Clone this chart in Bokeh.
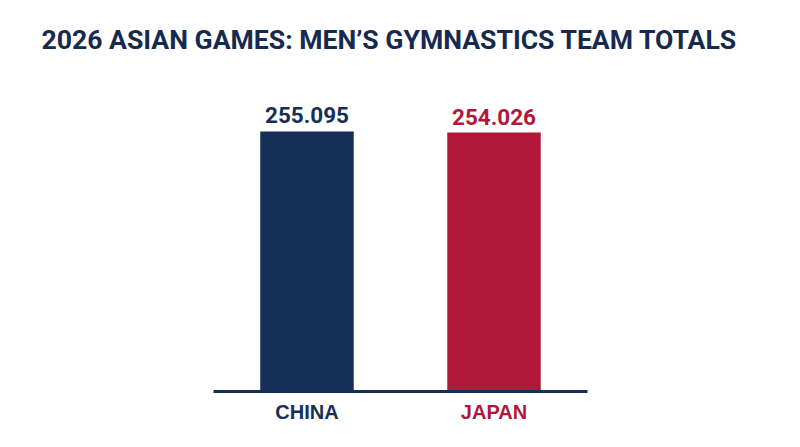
from bokeh.plotting import figure
from bokeh.models import FactorRange, Range1d, Label, ColumnDataSource
from bokeh.core.properties import value
from bokeh.embed import file_html
from bokeh.resources import INLINE

title_text = "2026 ASIAN GAMES: MEN\u2019S GYMNASTICS TEAM TOTALS"
categories = ["CHINA", "JAPAN"]
totals = [255.095, 254.026]
labels = ["255.095", "254.026"]
colors = ["#152F59", "#B0173A"]

W, H = 800, 447
px_per_unit = 1.0193
base_y = 391

p = figure(width=W, height=H, output_backend="svg", toolbar_location=None,
           x_range=FactorRange(*categories, range_padding=1.139, range_padding_units="absolute"),
           y_range=Range1d(-(H - base_y) / px_per_unit, base_y / px_per_unit),
           min_border=0, min_border_left=0, min_border_right=0,
           min_border_top=0, min_border_bottom=0)
p.axis.visible = False
p.grid.visible = False
p.outline_line_color = None
p.background_fill_color = "white"
p.border_fill_color = "white"

src = ColumnDataSource(dict(cat=categories, val=totals, lab=labels, col=colors,
                            zero=[0] * len(categories)))

p.vbar(x="cat", top="val", bottom=0, width=0.5, fill_color="col", line_color=None, source=src)

p.segment(x0=[0], y0=[0], x1=[len(categories)], y1=[0], line_color="#152F59", line_width=3)

p.text(x="cat", y="val", text="lab", text_color="col", source=src,
       text_font=value("Roboto"), text_font_style="bold", text_font_size="22.5px",
       text_align="center", text_baseline="alphabetic", y_offset=-16)

p.text(x="cat", y="zero", text="cat", text_color="col", source=src,
       text_font=value("Liberation Sans"), text_font_style="bold", text_font_size="20px",
       text_align="center", text_baseline="alphabetic", y_offset=20)

p.add_layout(Label(x=1.0, y=(base_y - 39) / px_per_unit, text=title_text,
                   text_font="Roboto", text_font_style="bold", text_font_size="26.6px",
                   text_color="#16294F", text_align="center", text_baseline="alphabetic",
                   x_offset=-11))

open("out.html", "w").write(file_html(p, INLINE))
